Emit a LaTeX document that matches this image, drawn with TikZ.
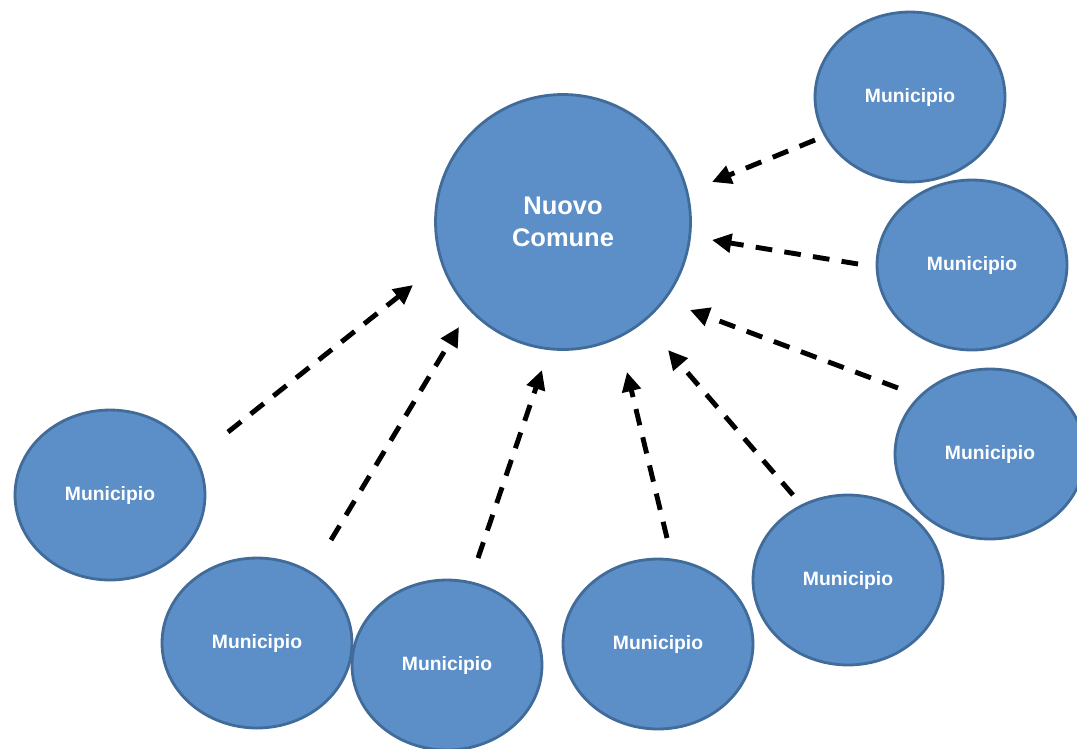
\documentclass[tikz,border=0pt]{standalone}
\usepackage{fontspec}
\setmainfont{Liberation Sans}
\usetikzlibrary{shapes.geometric,arrows.meta}

\definecolor{munifill}{RGB}{92,142,200}
\definecolor{muniedge}{RGB}{65,108,153}

\begin{document}
\begin{tikzpicture}[x=0.02cm,y=-0.02cm,
	muni/.style={ellipse,draw=muniedge,fill=munifill,line width=1.6pt,
		minimum width=3.8cm,minimum height=3.4cm,inner sep=0pt,
		text=white,font=\bfseries\fontsize{11}{13}\selectfont},
	comune/.style={circle,draw=muniedge,fill=munifill,line width=1.6pt,
		minimum size=5.1cm,inner sep=0pt,align=center,
		text=white,font=\bfseries\fontsize{14.5}{18}\selectfont},
	link/.style={line width=2.8pt,dash pattern=on 9.5pt off 7pt,
		-{Triangle[length=11pt,width=10.5pt]}}]
	\useasboundingbox (0,0) rectangle (1077,748);
	\clip (0,0) rectangle (1077,748);
	
	\node[comune] (nuovo) at (563,222) {Nuovo\\Comune};
	
	\node[muni] (m1) at (910,97) {Municipio};
	\node[muni] (m2) at (972,265) {Municipio};
	\node[muni] (m3) at (990,454) {Municipio};
	\node[muni] (m4) at (848,580) {Municipio};
	\node[muni] (m5) at (658,644) {Municipio};
	\node[muni] (m7) at (257,643) {Municipio};
	\node[muni] (m6) at (447,665) {Municipio};
	\node[muni] (m8) at (110,495) {Municipio};
	
	% ends of the arrows
	\coordinate (t1) at (815,140); \coordinate (h1) at (712,182);
	\coordinate (t2) at (858,264); \coordinate (h2) at (712,240);
	\coordinate (t3) at (898,388); \coordinate (h3) at (690,310);
	\coordinate (t4) at (793,495); \coordinate (h4) at (668,350);
	\coordinate (t5) at (667,538); \coordinate (h5) at (627,372);
	\coordinate (t6) at (478,558); \coordinate (h6) at (542,370);
	\coordinate (t7) at (331,540); \coordinate (h7) at (459,327);
	\coordinate (t8) at (228,432); \coordinate (h8) at (413,285);
	
	\draw[link] (t1) -- (h1);
	\draw[link] (t2) -- (h2);
	\draw[link] (t3) -- (h3);
	\draw[link] (t4) -- (h4);
	\draw[link] (t5) -- (h5);
	\draw[link] (t6) -- (h6);
	\draw[link] (t7) -- (h7);
	\draw[link] (t8) -- (h8);
	
\end{tikzpicture}
\end{document}
